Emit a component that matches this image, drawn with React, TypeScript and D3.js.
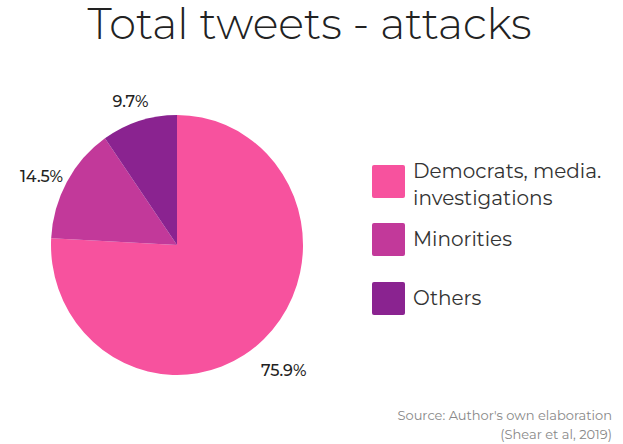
import React from "react";
import * as d3 from "d3";

const categories = ["Democrats, media. investigations", "Minorities", "Others"];
const legendLines = [["Democrats, media.", "investigations"], ["Minorities"], ["Others"]];
const values = [75.9, 14.5, 9.7];
const colors = ["#F7529E", "#C2399A", "#8A2390"];
const labelText = ["75.9%", "14.5%", "9.7%"];

export default function App() {
  const W = 623, H = 444;
  const cx = 177, cy = 245, r = 126, sy = 130 / 126;
  const pie = d3.pie<number>().sort(null).value((d) => d)(values);
  const arc = d3.arc<d3.PieArcDatum<number>>().innerRadius(0).outerRadius(r);
  const labelArc = d3.arc<d3.PieArcDatum<number>>().innerRadius(r + 29).outerRadius(r + 29);
  const font = "Montserrat, 'Open Sans', Lato, sans-serif";
  const legendY = [165, 223, 282];
  return (
    <svg width={W} height={H} style={{ position: "absolute", left: 0, top: 0, background: "#fff" }}>
      <text x={309.5} y={39} textAnchor="middle" fontFamily={font} fontWeight={300} fontSize={43} fill="#222">
        Total tweets - attacks
      </text>
      <g transform={`translate(${cx},${cy})`}>
        <g transform={`scale(1,${sy})`}>
          {pie.map((p, i) => (
            <path key={i} d={arc(p) || ""} fill={colors[i]} />
          ))}
        </g>
        {pie.map((p, i) => {
          const [x, y] = labelArc.centroid(p);
          return (
            <text key={i} x={x} y={y * sy + 15} textAnchor="middle" fontFamily={font} fontWeight={500} fontSize={16} fill="#222">
              {labelText[i]}
            </text>
          );
        })}
      </g>
      {categories.map((c, i) => {
        const lines = legendLines[i];
        const first = lines.length > 1 ? 13 : 23;
        return (
          <g key={c}>
            <rect x={372} y={legendY[i]} width={33} height={33} rx={2} fill={colors[i]} />
            {lines.map((ln, j) => (
              <text key={j} x={413} y={legendY[i] + first + j * 27} fontFamily={font} fontSize={20} fill="#333">
                {ln}
              </text>
            ))}
          </g>
        );
      })}
      <text x={612} y={420} textAnchor="end" fontFamily={font} fontSize={13} fill="#888">
        Source: Author's own elaboration
      </text>
      <text x={612} y={439} textAnchor="end" fontFamily={font} fontSize={13} fill="#888">
        (Shear et al, 2019)
      </text>
    </svg>
  );
}
